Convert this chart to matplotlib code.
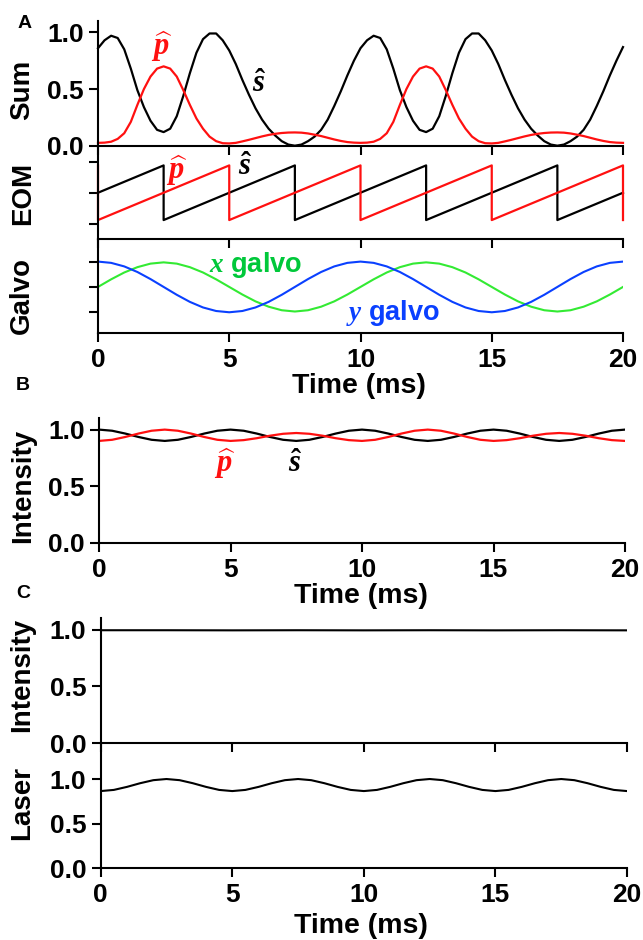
import numpy as np
import matplotlib.pyplot as plt

plt.rcParams['font.family'] = ['Liberation Sans', 'DejaVu Sans']
plt.rcParams['font.weight'] = 'bold'
plt.rcParams['mathtext.fontset'] = 'custom'
plt.rcParams['mathtext.it'] = 'Liberation Serif:bold:italic'
plt.rcParams['mathtext.rm'] = 'Liberation Serif:bold'
plt.rcParams['mathtext.bf'] = 'Liberation Serif:bold'

# ---- data ----
# panel A, Sum (sampled every 0.25 ms)
t_sum = np.arange(0, 20.001, 0.25)
sum_s = [0.86, 0.93, 0.97, 0.95, 0.85, 0.68, 0.49, 0.34, 0.22, 0.14,
         0.12, 0.15, 0.26, 0.44, 0.64, 0.82, 0.94, 0.99, 0.99, 0.93,
         0.84, 0.72, 0.58, 0.45, 0.33, 0.23, 0.15, 0.09, 0.04, 0.01,
         0.00, 0.01, 0.04, 0.08, 0.14, 0.23, 0.35, 0.48, 0.62, 0.75,
         0.86, 0.93, 0.97, 0.95, 0.85, 0.68, 0.49, 0.34, 0.22, 0.14,
         0.12, 0.15, 0.26, 0.44, 0.64, 0.82, 0.94, 0.99, 0.99, 0.93,
         0.84, 0.72, 0.58, 0.45, 0.33, 0.23, 0.15, 0.09, 0.04, 0.01,
         0.00, 0.01, 0.04, 0.08, 0.14, 0.23, 0.35, 0.48, 0.62, 0.75,
         0.87]
sum_p = [0.025, 0.027, 0.035, 0.06, 0.11, 0.21, 0.36, 0.50, 0.61, 0.68,
         0.70, 0.68, 0.61, 0.49, 0.36, 0.24, 0.15, 0.08, 0.04, 0.022,
         0.02, 0.025, 0.038, 0.052, 0.067, 0.082, 0.095, 0.105, 0.112, 0.116,
         0.117, 0.115, 0.108, 0.097, 0.085, 0.07, 0.055, 0.042, 0.032, 0.027,
         0.025, 0.027, 0.035, 0.06, 0.11, 0.21, 0.36, 0.50, 0.61, 0.68,
         0.70, 0.68, 0.61, 0.49, 0.36, 0.24, 0.15, 0.08, 0.04, 0.022,
         0.02, 0.025, 0.038, 0.052, 0.067, 0.082, 0.095, 0.105, 0.112, 0.116,
         0.117, 0.115, 0.108, 0.097, 0.085, 0.07, 0.055, 0.042, 0.032, 0.027,
         0.025]

# panel A, EOM sawtooth vertices
eom_p_t = [0, 0, 5, 5, 10, 10, 15, 15, 20, 20]
eom_p_v = [0.9, -0.86, 0.9, -0.86, 0.9, -0.86, 0.9, -0.86, 0.9, -0.86]
eom_s_t = [0, 2.5, 2.5, 7.5, 7.5, 12.5, 12.5, 17.5, 17.5, 20]
eom_s_v = [0.02, 0.9, -0.86, 0.9, -0.86, 0.9, -0.86, 0.9, -0.86, 0.02]

# panel A, galvo (every 0.5 ms)
t_half = np.arange(0, 20.001, 0.5)
galvo_x = [0.0, 0.30, 0.57, 0.78, 0.92, 0.97, 0.92, 0.78, 0.57, 0.30,
           0.0, -0.30, -0.57, -0.78, -0.92, -0.97, -0.92, -0.78, -0.57, -0.30,
           0.0, 0.30, 0.57, 0.78, 0.92, 0.97, 0.92, 0.78, 0.57, 0.30,
           0.0, -0.30, -0.57, -0.78, -0.92, -0.97, -0.92, -0.78, -0.57, -0.30,
           0.0]
galvo_y = [1.0, 0.95, 0.81, 0.59, 0.31, 0.0, -0.31, -0.59, -0.81, -0.95,
           -1.0, -0.95, -0.81, -0.59, -0.31, 0.0, 0.31, 0.59, 0.81, 0.95,
           1.0, 0.95, 0.81, 0.59, 0.31, 0.0, -0.31, -0.59, -0.81, -0.95,
           -1.0, -0.95, -0.81, -0.59, -0.31, 0.0, 0.31, 0.59, 0.81, 0.95,
           1.0]

# panel B (every 0.5 ms)
int_s = [1.0, 0.99, 0.965, 0.935, 0.91, 0.90, 0.91, 0.935, 0.965, 0.99,
         1.0, 0.99, 0.965, 0.935, 0.91, 0.90, 0.91, 0.935, 0.965, 0.99,
         1.0, 0.99, 0.965, 0.935, 0.91, 0.90, 0.91, 0.935, 0.965, 0.99,
         1.0, 0.99, 0.965, 0.935, 0.91, 0.90, 0.91, 0.935, 0.965, 0.99,
         1.0]
int_p = [0.90, 0.91, 0.935, 0.965, 0.99, 1.0, 0.99, 0.965, 0.935, 0.91,
         0.90, 0.907, 0.924, 0.946, 0.963, 0.97, 0.963, 0.946, 0.924, 0.907,
         0.90, 0.91, 0.935, 0.965, 0.99, 1.0, 0.99, 0.965, 0.935, 0.91,
         0.90, 0.907, 0.924, 0.946, 0.963, 0.97, 0.963, 0.946, 0.924, 0.907,
         0.90]

# panel C
t_flat = [0, 2.5, 5, 7.5, 10, 12.5, 15, 17.5, 20]
int_total = [0.995, 0.995, 0.994, 0.995, 0.994, 0.995, 0.994, 0.995, 0.994]
laser = [0.865, 0.878, 0.912, 0.953, 0.987, 1.0, 0.987, 0.953, 0.912, 0.878,
         0.865, 0.878, 0.912, 0.953, 0.987, 1.0, 0.987, 0.953, 0.912, 0.878,
         0.865, 0.878, 0.912, 0.953, 0.987, 1.0, 0.987, 0.953, 0.912, 0.878,
         0.865, 0.878, 0.912, 0.953, 0.987, 1.0, 0.987, 0.953, 0.912, 0.878,
         0.865]

RED = '#ff1010'
GREEN_LINE = '#33ea33'
GREEN_TXT = '#00c83a'
BLUE = '#0a40ff'

W, H = 643, 940
fig = plt.figure(figsize=(W / 100, H / 100), dpi=100)


def box(x0, x1, y0, y1):
    return [x0 / W, 1 - y1 / H, (x1 - x0) / W, (y1 - y0) / H]


def px(x, y):
    return x / W, 1 - y / H


def style(ax, xlabels=True):
    ax.set_facecolor('none')
    ax.spines['top'].set_visible(False)
    ax.spines['right'].set_visible(False)
    ax.spines['left'].set_linewidth(1.5)
    ax.spines['bottom'].set_linewidth(1.5)
    ax.tick_params(direction='out', length=6.8, width=1.5, labelsize=19, pad=3.5)
    ax.tick_params(axis='x', pad=4)
    ax.set_xlim(0, 20)
    ax.set_xticks([0, 5, 10, 15, 20])
    if not xlabels:
        ax.tick_params(labelbottom=False)


def label(x, y, s, **kw):
    fig.text(*px(x, y), s, ha='center', va='center', fontweight='bold', **kw)


# ---- panel A ----
ax_sum = fig.add_axes(box(98, 623, 21, 145.7))
style(ax_sum, xlabels=False)
ax_sum.plot(t_sum, sum_s, color='black', lw=1.6, clip_on=False)
ax_sum.plot(t_sum, sum_p, color=RED, lw=1.6, clip_on=False)
ax_sum.set_ylim(0, 1.1)
ax_sum.set_yticks([0, 0.5, 1.0], ['0.0', '0.5', '1.0'])

ax_eom = fig.add_axes(box(98, 623, 145.7, 239.3))
style(ax_eom, xlabels=False)
ax_eom.plot(eom_s_t, eom_s_v, color='black', lw=1.6, clip_on=False)
ax_eom.plot(eom_p_t, eom_p_v, color=RED, lw=1.6, clip_on=False)
ax_eom.set_ylim(-1.48, 1.535)
ax_eom.set_yticks([-1, 0, 1], [])

ax_gal = fig.add_axes(box(98, 623, 239.3, 333.3))
style(ax_gal)
ax_gal.plot(t_half, galvo_x, color=GREEN_LINE, lw=1.5)
ax_gal.plot(t_half, galvo_y, color=BLUE, lw=1.5)
ax_gal.set_ylim(-1.83, 1.88)
ax_gal.set_yticks([-1, 0, 1], [])

# ---- panel B ----
ax_b = fig.add_axes(box(99, 625, 418.3, 542.7))
style(ax_b)
ax_b.plot(t_half, int_s, color='black', lw=1.6)
ax_b.plot(t_half, int_p, color=RED, lw=1.6)
ax_b.set_ylim(0, 1.1)
ax_b.set_yticks([0, 0.5, 1.0], ['0.0', '0.5', '1.0'])

# ---- panel C ----
ax_c1 = fig.add_axes(box(100.7, 627, 618.3, 743.3))
style(ax_c1, xlabels=False)
ax_c1.plot(t_flat, int_total, color='black', lw=1.5)
ax_c1.set_ylim(0, 1.1)
ax_c1.set_yticks([0, 0.5, 1.0], ['0.0', '0.5', '1.0'])

ax_c2 = fig.add_axes(box(100.7, 627, 743.3, 868.3))
style(ax_c2)
ax_c2.plot(t_half, laser, color='black', lw=1.5)
ax_c2.set_ylim(0, 1.4)
ax_c2.set_yticks([0, 0.5, 1.0], ['0.0', '0.5', '1.0'])

# ---- texts ----
label(24.5, 24, 'A', fontsize=14)
label(23, 385, 'B', fontsize=14)
label(23, 593, 'C', fontsize=14)

for (x, y, s) in [(22.5, 90, 'Sum'), (23, 193, 'EOM'), (22, 295, 'Galvo'),
                  (23, 486, 'Intensity'), (22, 675, 'Intensity'),
                  (22, 803.5, 'Laser')]:
    label(x, y, s, fontsize=20, rotation=90)

for (x, y) in [(359, 373), (361, 583), (361, 913)]:
    fig.text(*px(x, y), 'Time (ms)', ha='center', va='top',
             fontsize=20.5, fontweight='bold')

label(162, 47, r'$\widehat{p}$', fontsize=22, color=RED)
label(259, 84, r'$\hat{s}$', fontsize=22, color='black')
label(177, 171, r'$\widehat{p}$', fontsize=22, color=RED)
label(245, 167, r'$\hat{s}$', fontsize=22, color='black')
label(225, 464, r'$\widehat{p}$', fontsize=22, color=RED)
label(295, 464, r'$\hat{s}$', fontsize=22, color='black')

label(256, 265, r'$x$ galvo', fontsize=19.5, color=GREEN_TXT)
label(393, 313, r'$y$ galvo', fontsize=19.5, color=BLUE)

fig.savefig('out.png', dpi=100)
